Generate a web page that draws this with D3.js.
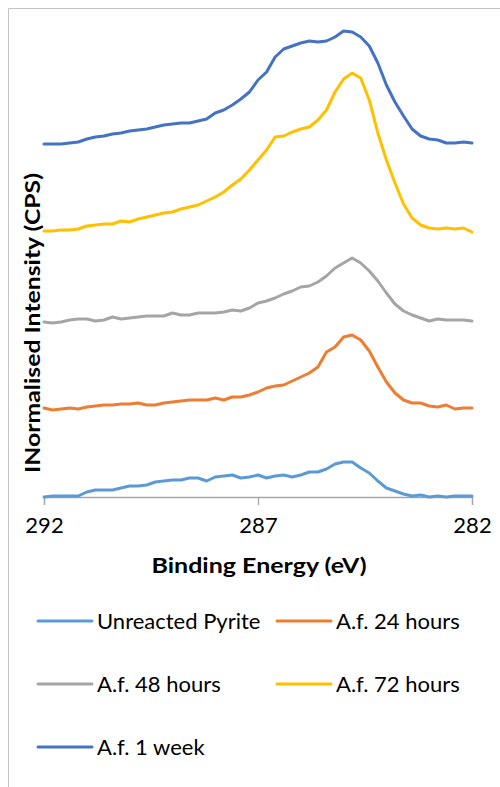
<!DOCTYPE html>
<html>
<head>
	<meta charset="utf-8">
	<title></title>
	<style type="text/css">
        body{
            padding:0;
            margin:0;
            overflow: hidden;
            background:#fff;
        }
        text{ font-family: Lato, "Open Sans", sans-serif; }
	</style>
</head>
<body>

<div id='svg-chart'></div>

<script type="text/javascript" src='https://cdn.jsdelivr.net/npm/d3@7/dist/d3.min.js'></script>
<script type="text/javascript">

    // binding energy grid, 292 -> 282 eV in 0.2 eV steps
    var energy = d3.range(0, 51).map(k => +(292 - k * 0.2).toFixed(1));

    var seriesNames = ["Unreacted Pyrite", "A.f. 24 hours", "A.f. 48 hours", "A.f. 72 hours", "A.f. 1 week"];
    var seriesColors = ["#5B9BD5", "#ED7D31", "#A5A5A5", "#FFC000", "#4472C4"];
    var xTicks = [292, 287, 282];

    // normalised intensities (stacked / offset as in the original figure)
    var unreacted = [0,1,1,1,1,5,7,7,7,9,11,11,12,15,16,17,17,19,19,16,20,21,22,19,20,22,19,21,22,20,22,25,25,28,33,35,35,29,24,16,9,6,3,1,2,0,1,0,1,1,1];
    var af24h = [89,87,88,89,88,90,91,92,92,93,93,94,92,92,94,95,96,97,97,97,99,97,100,100,102,105,109,111,112,116,120,124,130,145,150,160,162,157,146,130,115,104,97,94,94,91,90,92,88,89,89];
    var af48h = [175,174,175,177,178,178,176,177,180,178,179,180,181,181,181,184,182,182,184,184,184,185,187,186,189,194,196,199,203,206,210,211,215,221,229,234,239,234,226,216,204,193,186,182,179,176,178,177,177,177,176];
    var af72h = [266,266,267,267,268,271,272,273,273,276,275,278,280,282,284,285,288,290,292,296,300,305,312,318,327,337,347,360,361,365,368,370,377,387,405,418,424,419,397,364,337,314,293,279,272,269,268,269,268,269,265];
    var af1week = [353,353,353,354,355,358,360,361,363,364,366,367,368,370,372,373,374,374,376,378,384,387,392,398,405,417,425,440,448,451,454,456,455,456,460,466,465,460,451,434,412,395,381,368,361,358,357,354,354,355,354];

    var allSeries = [unreacted, af24h, af48h, af72h, af1week];

    var width = 500, height = 787;

    var svg = d3.select('#svg-chart')
        .append('svg')
        .attr('width', width)
        .attr('height', height);

    // chart frame (right / bottom edges are cut off in the original)
    svg.append('path')
        .attr('d', 'M8.5,' + height + 'V8.5H' + width)
        .attr('fill', 'none')
        .attr('stroke', '#c4c4c4')
        .attr('stroke-width', 1);

    var xScale = d3.scaleLinear().domain([292, 282]).range([44, 472]);
    var yScale = d3.scaleLinear().domain([0, 490]).range([497, 7]);

    // x axis
    var xAxis = svg.append('g')
        .attr('transform', 'translate(0,' + yScale(0) + ')')
        .call(d3.axisBottom(xScale).tickValues(xTicks).tickSize(8).tickPadding(12).tickFormat(d3.format('d')));

    xAxis.select('.domain').attr('stroke', '#a6a6a6').attr('stroke-width', 1.3);
    xAxis.selectAll('.tick line').attr('stroke', '#a6a6a6').attr('stroke-width', 1.3);
    xAxis.selectAll('.tick text')
        .attr('fill', '#000')
        .style('font-size', '22px')
        .attr('dy', '0.71em');

    svg.append('text')
        .attr('x', 259)
        .attr('y', 573)
        .attr('text-anchor', 'middle')
        .attr('textLength', 215)
        .attr('lengthAdjust', 'spacingAndGlyphs')
        .style('font-size', '21px')
        .style('font-weight', 'bold')
        .text('Binding Energy (eV)');

    svg.append('text')
        .attr('transform', 'translate(40,323) rotate(-90)')
        .attr('text-anchor', 'middle')
        .attr('textLength', 300)
        .attr('lengthAdjust', 'spacingAndGlyphs')
        .style('font-size', '21px')
        .style('font-weight', 'bold')
        .text('INormalised Intensity (CPS)');

    // spectra
    var line = d3.line()
        .x((d, i) => xScale(energy[i]))
        .y(d => yScale(d));

    svg.selectAll('path.series')
        .data(allSeries)
        .enter()
        .append('path')
        .attr('class', 'series')
        .attr('d', line)
        .attr('fill', 'none')
        .attr('stroke', (d, i) => seriesColors[i])
        .attr('stroke-width', 3)
        .attr('stroke-linejoin', 'round')
        .attr('stroke-linecap', 'round');

    // legend, two columns
    var legend = svg.selectAll('g.legend')
        .data(seriesNames)
        .enter()
        .append('g')
        .attr('class', 'legend')
        .attr('transform', (d, i) => 'translate(' + (i % 2 ? 277 : 38) + ',' + (621 + Math.floor(i / 2) * 63) + ')');

    legend.append('line')
        .attr('x1', 0).attr('x2', 54)
        .attr('stroke', (d, i) => seriesColors[i])
        .attr('stroke-width', 3)
        .attr('stroke-linecap', 'round');

    legend.append('text')
        .attr('x', 59)
        .attr('dy', '0.35em')
        .attr('fill', '#000')
        .style('font-size', '22px')
        .text(d => d);

</script>

</body>
</html>
